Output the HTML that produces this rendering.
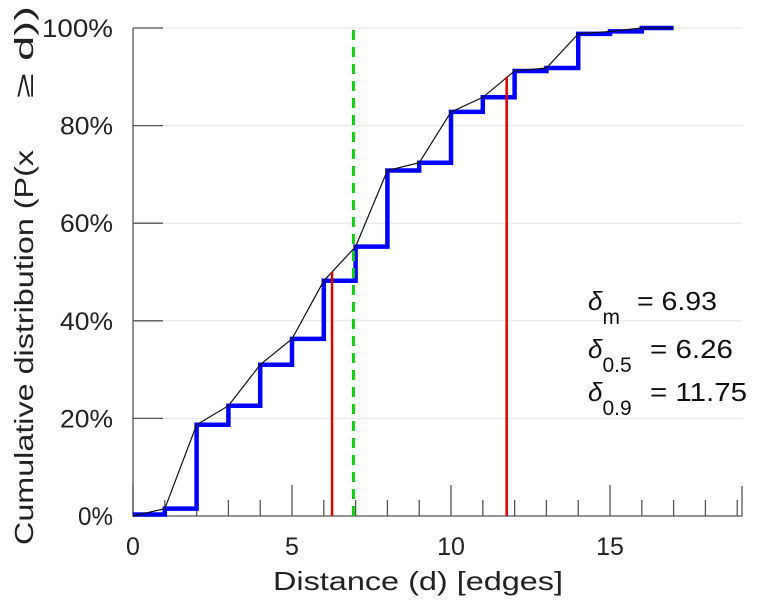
<!DOCTYPE html>
<html><head><meta charset="utf-8">
<style>
html,body{margin:0;padding:0;background:#fff;}
svg{display:block;font-family:"Liberation Sans",sans-serif;}
</style></head>
<body>
<svg id="chart" width="767" height="600" viewBox="0 0 767 600" xmlns="http://www.w3.org/2000/svg"></svg>
<script>
const stepX = [0,1,2,3,4,5,6,7,8,9,10,11,12,13,14,15,16];
const stepY = [0.3,1.5,18.7,22.6,31.0,36.3,48.2,55.2,70.8,72.4,82.8,85.8,91.2,91.8,98.8,99.3,100];
const xTicks = [0,5,10,15];
const yTicks = [0,20,40,60,80,100];
const deltaM = 6.93, delta05 = 6.26, delta09 = 11.75;
const red05Top = 50, red09Top = 90;

const X0=133, X1=742, Y0=516, Y1=28, XMAX=19.15;
const sx = v => X0 + v/XMAX*(X1-X0);
const sy = v => Y0 - v/100*(Y0-Y1);
const svg = document.getElementById('chart');
const NS='http://www.w3.org/2000/svg';
function mk(tag, attrs, parent){const e=document.createElementNS(NS,tag);for(const k in attrs)e.setAttribute(k,attrs[k]);(parent||svg).appendChild(e);return e;}

yTicks.forEach(t=>{
  if(t===0) return;
  const g=mk('line',{x1:X0,x2:X1,y1:sy(t),y2:sy(t),stroke:'#e6e6e6','stroke-width':1});
  
  
});
const ax=mk('path',{d:`M${X0},${Y1} V${Y0} H${X1} V${Y0-30}`,fill:'none',stroke:'#555','stroke-width':1.3});


yTicks.forEach(t=>{
  const l=mk('line',{x1:X0,x2:X0+30,y1:sy(t),y2:sy(t),stroke:'#555','stroke-width':1.3});
  
  
  const lbl=t+'%';
  const tx=mk('text',{x:X0-20,y:sy(t)+9,'text-anchor':'end','font-size':25,fill:'#222',textLength:lbl.length*18-1,lengthAdjust:'spacingAndGlyphs'});
  tx.textContent=lbl;
  
  
});
for(let i=0;i<=19;i++){
  const major = i%5===0;
  const l=mk('line',{x1:sx(i),x2:sx(i),y1:Y0,y2:Y0-(major?31:16),stroke:'#555','stroke-width':1.3});
  
  
}
xTicks.forEach(t=>{
  const tx=mk('text',{x:sx(t),y:555,'text-anchor':'middle','font-size':25,fill:'#222'});
  tx.textContent=t;
  
  
});
const xt=mk('text',{x:273,y:590,'font-size':26,fill:'#222',textLength:290,lengthAdjust:'spacingAndGlyphs'});
xt.textContent='Distance (d) [edges]';


const yt1=mk('text',{x:0,y:0,'font-size':26,fill:'#222',textLength:395,lengthAdjust:'spacingAndGlyphs',transform:'translate(33,545) rotate(-90)'});
yt1.textContent='Cumulative distribution (P(x';


const yt2=mk('text',{x:0,y:0,'font-size':26,fill:'#222',textLength:92,lengthAdjust:'spacingAndGlyphs',transform:'translate(33,98) rotate(-90)'});
yt2.textContent='≥ d))';



let d='';
stepX.forEach((x,i)=>{
  const y=sy(stepY[i]);
  d += (i===0?`M${sx(x)},${y}`:` V${y}`)+` H${sx(x+1)}`;
});
const st=mk('path',{d,fill:'none',stroke:'#0000ff','stroke-width':4.5});


let b=`M${sx(0)},${sy(0)}`;
stepX.forEach((x,i)=>{ if(i>0) b+=` L${sx(x)},${sy(stepY[i])}`; });
b+=` L${sx(stepX[stepX.length-1]+1)},${sy(stepY[stepY.length-1])}`;
const bl=mk('path',{d:b,fill:'none',stroke:'#111','stroke-width':1.2});



[[delta05,red05Top,'delta-05-line'],[delta09,red09Top,'delta-09-line']].forEach(([v,top,n])=>{
  const l=mk('line',{x1:sx(v),x2:sx(v),y1:Y0,y2:sy(top),stroke:'#dd0000','stroke-width':2.5});
  
  
});
const gl=mk('line',{x1:sx(deltaM),x2:sx(deltaM),y1:Y0,y2:Y1,stroke:'#11cc11','stroke-width':3,'stroke-dasharray':'10,7'});



const ann=[['m',deltaM.toFixed(2),310,637,80],['0.5',delta05.toFixed(2),358,650,83],['0.9',delta09.toFixed(2),401,650,97]];
ann.forEach(([sub,val,y,vx,vw])=>{
  const g=mk('g',{});
  
  
  const t=mk('text',{x:588,y:y,'font-size':26,fill:'#111'},g);
  t.innerHTML=`<tspan font-style="italic">δ</tspan><tspan dy="14" font-size="21">${sub}</tspan>`;
  const v=mk('text',{x:vx,y:y,'font-size':26,fill:'#111',textLength:vw,lengthAdjust:'spacingAndGlyphs'},g);
  v.textContent='= '+val;
});
</script>
</body></html>
